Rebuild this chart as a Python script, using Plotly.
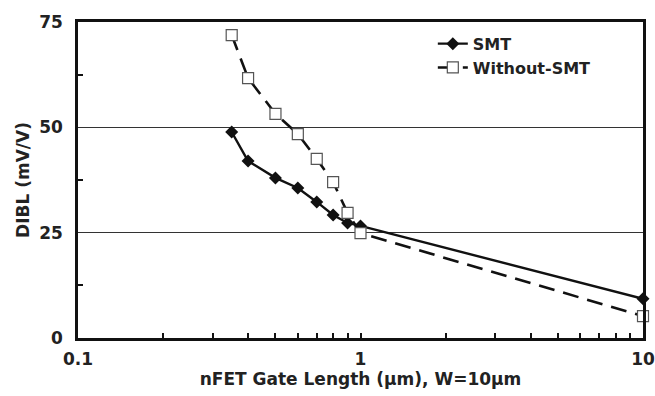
import plotly.graph_objects as go

gate_length = [0.35, 0.4, 0.5, 0.6, 0.7, 0.8, 0.9, 1.0, 10]
dibl_smt = [48.9, 42.0, 38.0, 35.6, 32.3, 29.2, 27.3, 26.6, 9.3]
dibl_without = [71.9, 61.7, 53.2, 48.4, 42.5, 37.0, 29.7, 24.9, 5.2]

x_ticks = [0.1, 1, 10]
x_tick_text = ["0.1", "1", "10"]
x_minor = [0.2, 0.3, 0.4, 0.5, 0.6, 0.7, 0.8, 0.9, 2, 3, 4, 5, 6, 7, 8, 9]
y_ticks = [0, 25, 50, 75]
y_minor = [12.5, 37.5, 62.5]

font = "DejaVu Sans, Liberation Sans, Arial, sans-serif"

fig = go.Figure()
fig.add_trace(go.Scatter(
    x=gate_length, y=dibl_smt, name="<b>SMT</b>", mode="lines+markers",
    line=dict(color="#111", width=2.4), cliponaxis=False,
    marker=dict(symbol="diamond", size=10, color="#111"),
))
fig.add_trace(go.Scatter(
    x=gate_length, y=dibl_without, name="<b>Without-SMT</b>", mode="lines+markers",
    line=dict(color="#111", width=2.6, dash="16px,9px"), cliponaxis=False,
    marker=dict(symbol="square", size=11, color="white",
                line=dict(color="#555", width=1.2)),
))

fig.update_layout(
    width=655, height=396,
    margin=dict(l=78, r=12, t=22, b=58, autoexpand=False),
    paper_bgcolor="white", plot_bgcolor="white",
    font=dict(family=font, size=17, color="#222"),
    showlegend=True,
    legend=dict(x=0.628, y=0.985, xanchor="left", yanchor="top",
                bgcolor="rgba(0,0,0,0)", font=dict(size=16, color="#222"),
                tracegroupgap=0, itemwidth=30),
    xaxis=dict(
        type="log", range=[-1, 1],
        tickvals=x_ticks, ticktext=["<b>%s</b>" % t for t in x_tick_text],
        ticks="inside", ticklen=5, tickwidth=1.5, tickcolor="#111",
        ticklabelstandoff=4,
        showline=True, linecolor="#111", linewidth=2.5, mirror=True,
        showgrid=False, zeroline=False, automargin=False,
        minor=dict(tickvals=x_minor, ticks="inside", ticklen=5, tickwidth=1.5,
                   tickcolor="#111", showgrid=False),
        title=dict(text="<b>nFET Gate Length (µm), W=10µm</b>", standoff=2,
                   font=dict(size=17)),
    ),
    yaxis=dict(
        range=[0, 75], tickvals=y_ticks,
        ticktext=["<b>%d</b>" % v for v in y_ticks],
        ticks="", ticklabelstandoff=9,
        showline=True, linecolor="#111", linewidth=2.5, mirror=True,
        showgrid=True, gridcolor="#333", gridwidth=1, zeroline=False,
        automargin=False,
        minor=dict(tickvals=y_minor, ticks="inside", ticklen=5,
                   tickwidth=1.5, tickcolor="#111", showgrid=False),
        title=dict(text="<b>DIBL (mV/V)</b>", standoff=6, font=dict(size=17)),
    ),
)

fig.write_html("out.html", config={"displayModeBar": False},
               post_script="document.body.style.margin='0';")
